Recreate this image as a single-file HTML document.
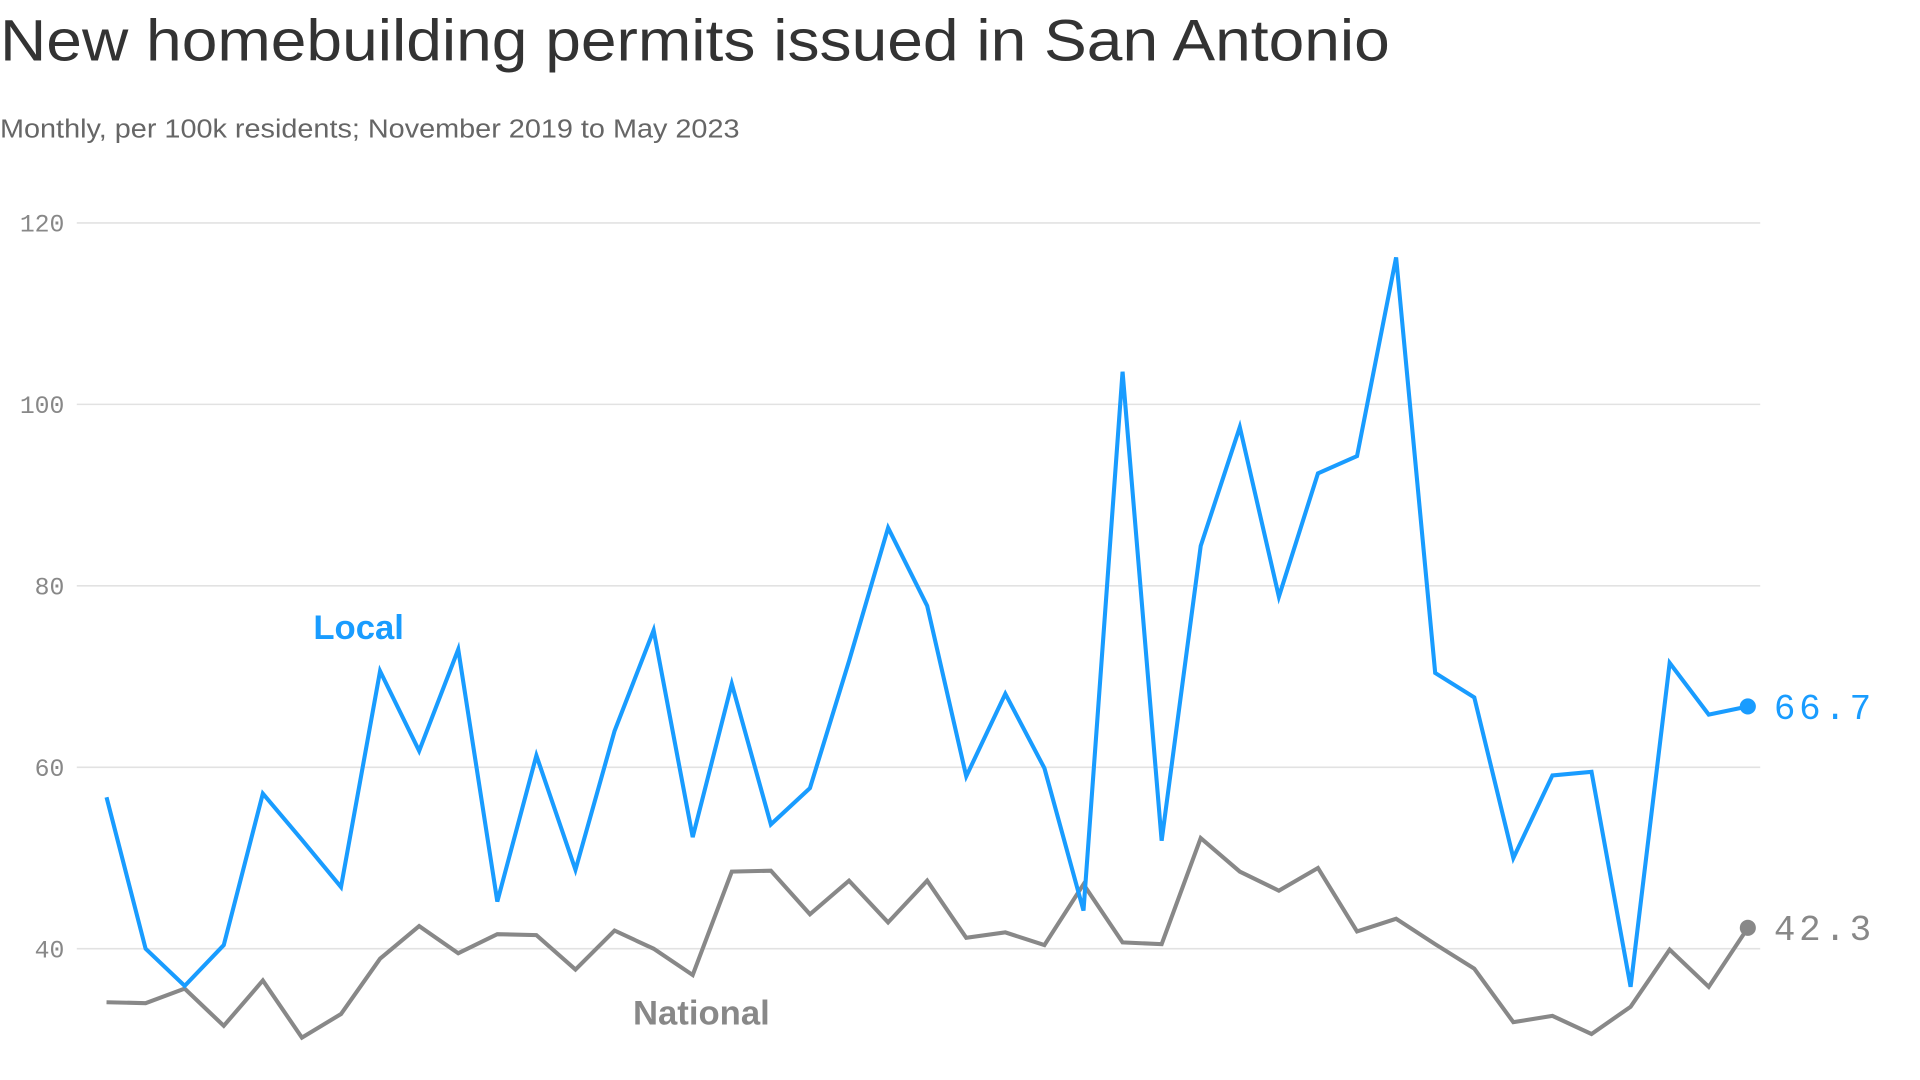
<!DOCTYPE html>
<html><head><meta charset="utf-8"><style>
html,body{margin:0;padding:0;background:#fff;width:1920px;height:1080px;overflow:hidden}
svg{display:block}
</style></head><body>
<svg id="chart" width="1920" height="1080" viewBox="0 0 1550 872" preserveAspectRatio="none" xmlns="http://www.w3.org/2000/svg">
<text x="0" y="49" font-family="Liberation Sans, sans-serif" font-size="47" fill="#333" textLength="1122" lengthAdjust="spacingAndGlyphs">New homebuilding permits issued in San Antonio</text>
<text x="0" y="111" font-family="Liberation Sans, sans-serif" font-size="21" fill="#666" textLength="597" lengthAdjust="spacingAndGlyphs">Monthly, per 100k residents; November 2019 to May 2023</text>
<g id="grid"></g>
<g id="series"></g>
</svg>
<script>
const yTicks=[40,60,80,100,120];
const localVals=[56.7,40,35.9,40.4,57.1,52,46.8,70.6,61.8,73,45.2,61.3,48.7,64,75.1,52.3,69.2,53.7,57.7,71.7,86.4,77.8,59,68.1,59.9,44.2,103.6,51.9,84.4,97.5,78.8,92.4,94.3,116.2,70.4,67.7,50,59.1,59.5,35.8,71.5,65.8,66.7];
const nationalVals=[34.1,34,35.6,31.5,36.5,30.2,32.8,38.9,42.5,39.5,41.6,41.5,37.7,42,40,37.1,48.5,48.6,43.8,47.5,42.9,47.5,41.2,41.8,40.4,47.1,40.7,40.5,52.2,48.5,46.4,48.9,41.9,43.3,40.5,37.8,31.9,32.6,30.6,33.6,39.9,35.8,42.3];
const NS="http://www.w3.org/2000/svg";
const n=localVals.length;
function xPos(i){return 86+i*(1411-86)/(n-1);}
function yPos(v){return 180+(120-v)*7.325;}
const grid=document.getElementById('grid');
yTicks.forEach(t=>{
  const l=document.createElementNS(NS,'line');
  
  
  l.setAttribute('x1',62);l.setAttribute('x2',1421);
  l.setAttribute('y1',yPos(t));l.setAttribute('y2',yPos(t));
  l.setAttribute('stroke','#e2e2e2');l.setAttribute('stroke-width','1.3');
  grid.appendChild(l);
  const tx=document.createElementNS(NS,'text');
  
  
  tx.setAttribute('x',52);tx.setAttribute('y',yPos(t)+7);
  tx.setAttribute('text-anchor','end');
  tx.setAttribute('font-family','Liberation Mono, monospace');
  tx.setAttribute('font-size','20');tx.setAttribute('fill','#888');
  tx.textContent=t;grid.appendChild(tx);
});
const g=document.getElementById('series');
function drawSeries(vals,color,name){
  const p=document.createElementNS(NS,'polyline');
  
  
  p.setAttribute('points',vals.map((v,i)=>xPos(i)+','+yPos(v)).join(' '));
  p.setAttribute('fill','none');p.setAttribute('stroke',color);
  p.setAttribute('stroke-width','3.3');p.setAttribute('stroke-linejoin','miter');
  g.appendChild(p);
  const last=vals[vals.length-1];
  const c=document.createElementNS(NS,'circle');
  
  
  c.setAttribute('cx',xPos(vals.length-1));c.setAttribute('cy',yPos(last));
  c.setAttribute('r','6.5');c.setAttribute('fill',color);
  g.appendChild(c);
  const t=document.createElementNS(NS,'text');
  
  
  t.setAttribute('x',1432);t.setAttribute('y',yPos(last)+10);
  t.setAttribute('font-family','Liberation Mono, monospace');
  t.setAttribute('font-size','29');t.setAttribute('fill',color);
  t.setAttribute('letter-spacing','3');
  t.textContent=last.toFixed(1);g.appendChild(t);
}
drawSeries(nationalVals,'#888888','national');
drawSeries(localVals,'#199cff','local');
function label(txt,x,y,color,name){
  const t=document.createElementNS(NS,'text');
  
  
  t.setAttribute('x',x);t.setAttribute('y',y);
  t.setAttribute('font-family','Liberation Sans, sans-serif');
  t.setAttribute('font-weight','bold');t.setAttribute('font-size','28');
  t.setAttribute('fill',color);t.textContent=txt;g.appendChild(t);
}
label('Local',253,516,'#199cff','local-series-label');
label('National',511,827,'#888888','national-series-label');
</script>
</body></html>
